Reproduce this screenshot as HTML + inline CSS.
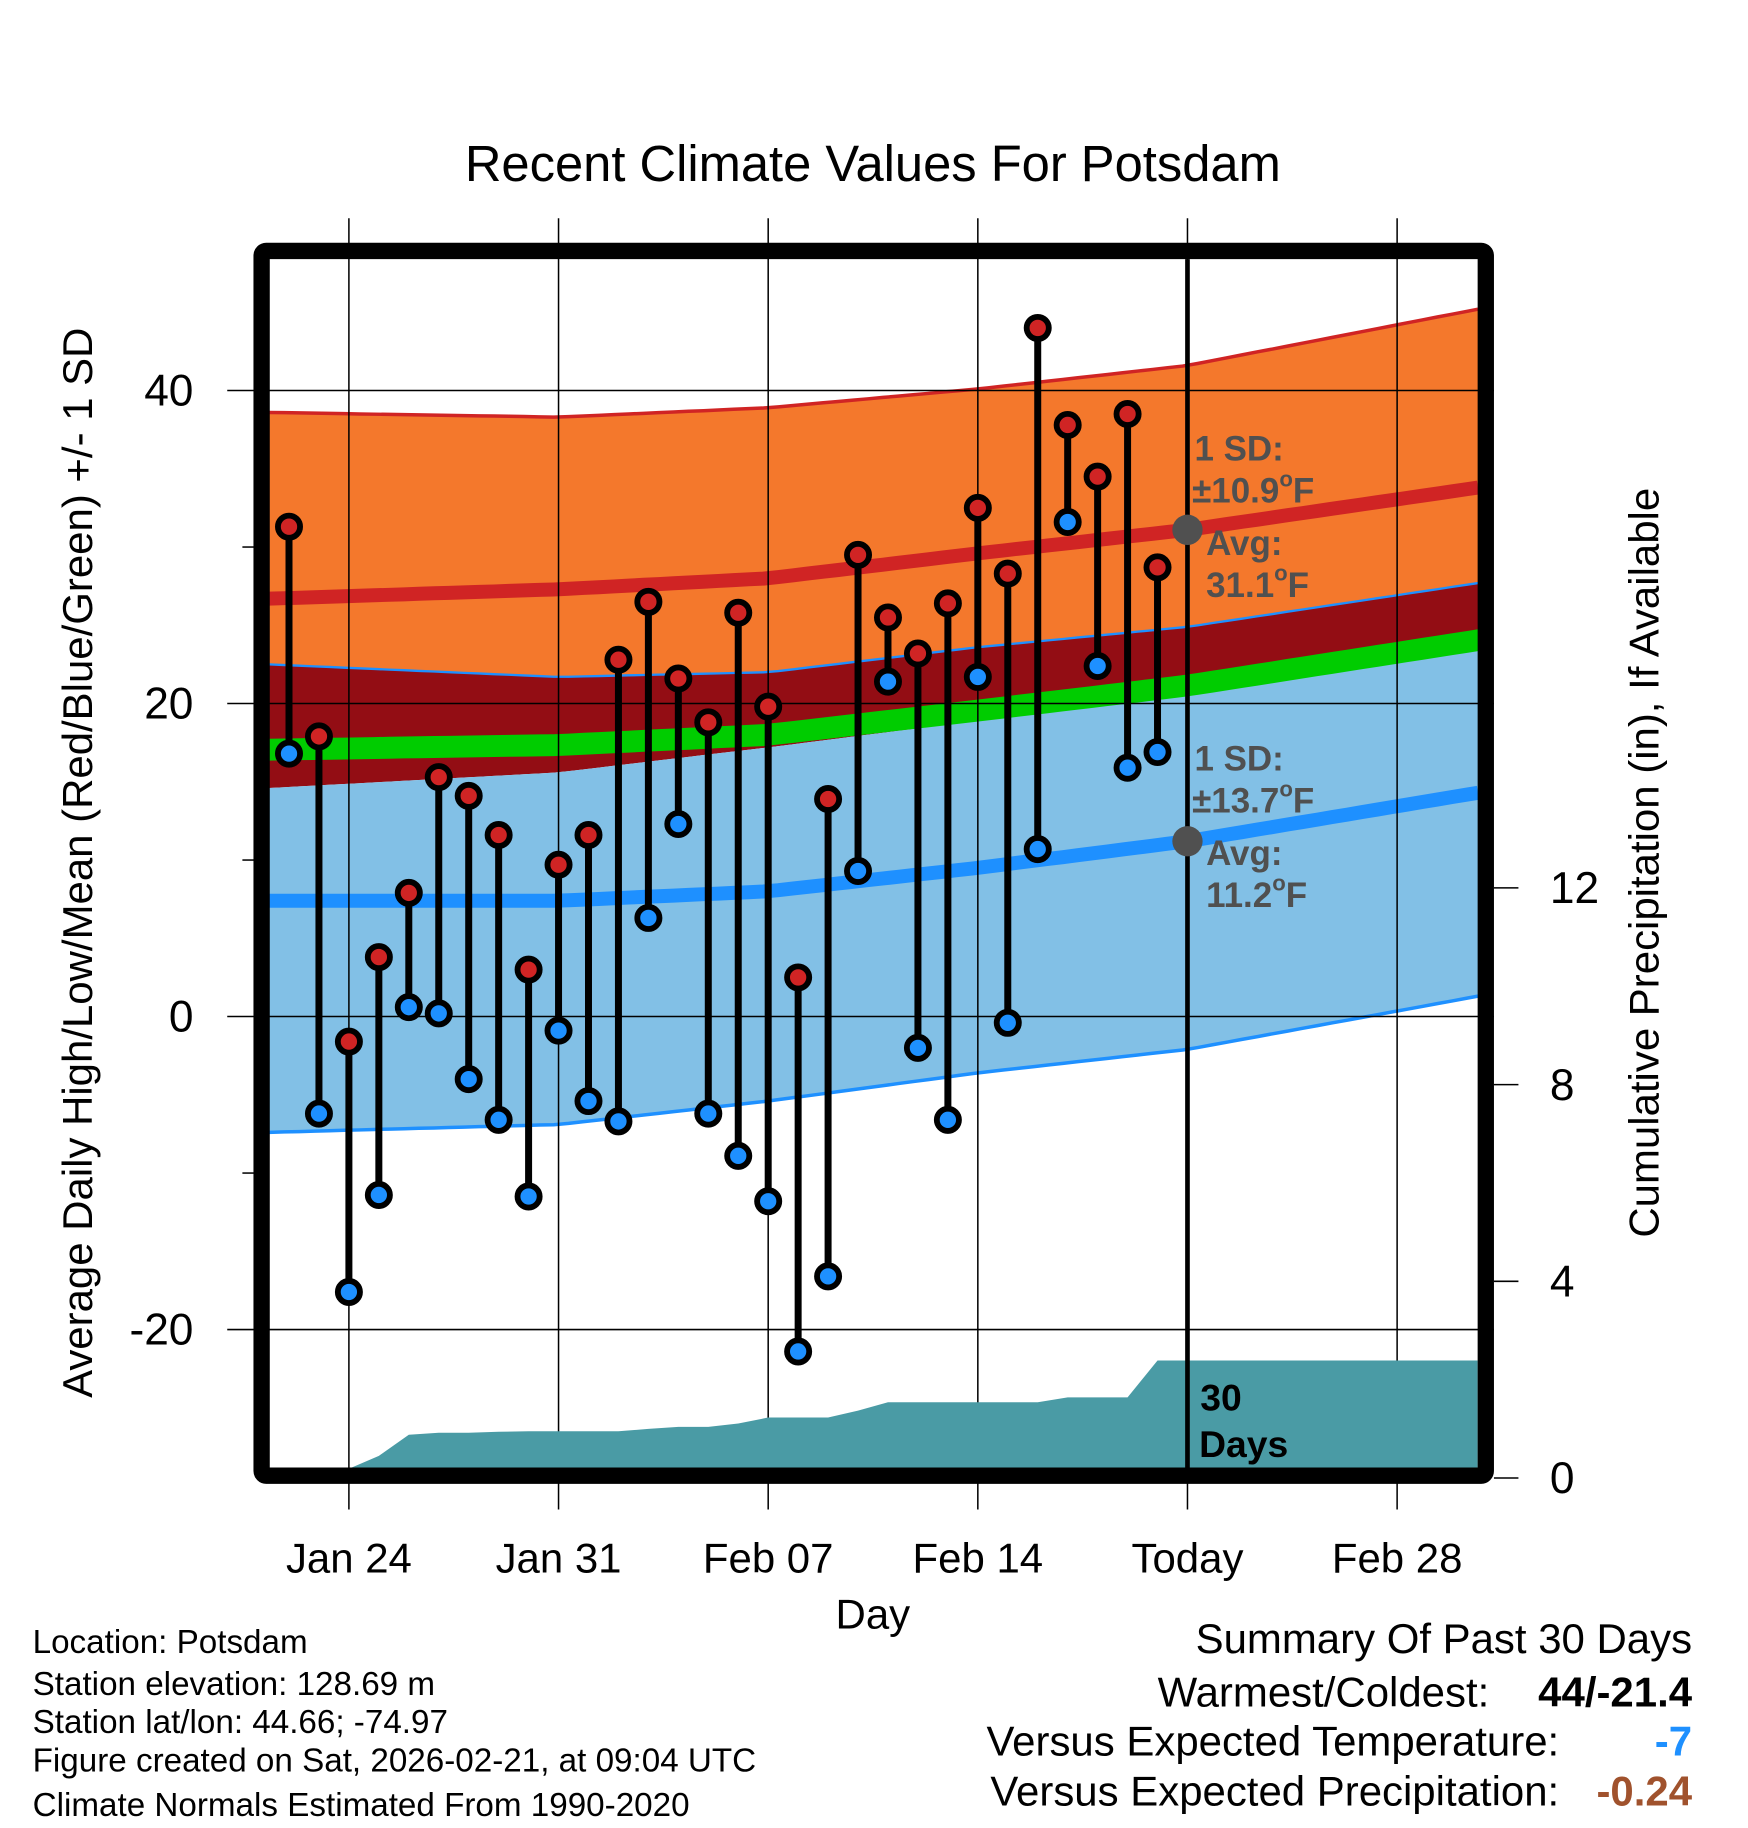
<!DOCTYPE html>
<html><head><meta charset="utf-8"><style>
html,body{margin:0;padding:0;background:#fff;}
svg{display:block;font-family:"Liberation Sans",Arial,sans-serif;}
</style></head><body>
<svg id="chart" width="1748" height="1828" viewBox="0 0 1500 1568" xmlns="http://www.w3.org/2000/svg">
<g id="bands"></g>
<g id="grid"></g>
<g id="precip"></g>
<g id="marks"></g>
<g id="axes"></g>
</svg>
<script>
// ---- data ----
const dayLabels = ["Jan 24","Jan 31","Feb 07","Feb 14","Today","Feb 28"];
const dayTickOffsets = [2,9,16,23,30,37]; // days after Jan 22
const highs = [31.3,17.9,-1.6,3.8,7.9,15.3,14.1,11.6,3.0,9.7,11.6,22.8,26.5,21.6,18.8,25.8,19.8,2.5,13.9,29.5,25.5,23.2,26.4,32.5,28.3,44.0,37.8,34.5,38.5,28.7];
const lows = [16.8,-6.2,-17.6,-11.4,0.6,0.2,-4.0,-6.6,-11.5,-0.9,-5.4,-6.7,6.3,12.3,-6.2,-8.9,-11.8,-21.4,-16.6,9.3,21.4,-2.0,-6.6,21.7,-0.4,10.7,31.6,22.4,15.9,16.9];
const precip = [0,0,0,0.45,0.88,0.92,0.92,0.94,0.95,0.95,0.95,0.95,1.0,1.04,1.04,1.11,1.23,1.23,1.23,1.37,1.54,1.54,1.54,1.54,1.54,1.54,1.64,1.64,1.64,2.39];
const normDays = [-0.66,9,16,23,30,39.7];
const highUpper = [38.6,38.3,38.9,40.1,41.6,45.2];
const highMean = [26.7,27.3,28.0,29.6,31.1,33.8];
const highLower = [22.5,21.7,22.0,23.6,24.9,27.7];
const lowUpper = [14.6,15.6,17.2,18.9,20.7,23.6];
const lowMean = [7.4,7.4,8.0,9.5,11.2,14.3];
const lowLower = [-7.4,-6.9,-5.4,-3.6,-2.1,1.3];
const yTicks = [40,20,0,-20];
const yMinor = [30,10,-10];
const pTicks = [0,4,8,12];

// ---- scales ----
const X0=231,X1=1268,Y0=222,Y1=1260;
const xs = d => 248 + d*25.7;
const ys = v => 872 - v*13.43;
const ps = v => 1268 - v*42.2;
const NS="http://www.w3.org/2000/svg";
function mk(tag, parent, attrs){const e=document.createElementNS(NS,tag);for(const k in attrs)e.setAttribute(k,attrs[k]);parent.appendChild(e);return e;}
function interp(arr,d){for(let i=0;i<normDays.length-1;i++){if(d<=normDays[i+1]){const t=(d-normDays[i])/(normDays[i+1]-normDays[i]);return arr[i]+t*(arr[i+1]-arr[i]);}}return arr[arr.length-1];}
const fine=[];for(let d=normDays[0];d<normDays[5];d+=0.5)fine.push(d);fine.push(normDays[5]);
function bandPath(up,lo){let p="";fine.forEach((d,i)=>{p+=(i?"L":"M")+xs(d).toFixed(1)+","+ys(up(d)).toFixed(1);});for(let i=fine.length-1;i>=0;i--){p+="L"+xs(fine[i]).toFixed(1)+","+ys(lo(fine[i])).toFixed(1);}return p+"Z";}
function linePath(f){return fine.map((d,i)=>(i?"L":"M")+xs(d).toFixed(1)+","+ys(f(d)).toFixed(1)).join("");}

const bands=document.getElementById('bands');
let e;
e=mk('path',bands,{d:bandPath(d=>interp(highUpper,d),d=>interp(highLower,d)),fill:'#f4782c'});


e=mk('path',bands,{d:bandPath(d=>interp(highLower,d),d=>interp(lowUpper,d)),fill:'#930d14'});


e=mk('path',bands,{d:bandPath(d=>interp(lowUpper,d),d=>interp(lowLower,d)),fill:'#82c0e6'});


e=mk('path',bands,{d:bandPath(d=>(interp(highMean,d)+interp(lowMean,d))/2+0.7,d=>(interp(highMean,d)+interp(lowMean,d))/2-0.7),fill:'#00cc00'});


e=mk('path',bands,{d:linePath(d=>interp(highUpper,d)),stroke:'#d02424',"stroke-width":3,fill:'none'});


e=mk('path',bands,{d:linePath(d=>interp(highMean,d)),stroke:'#d02424',"stroke-width":12,fill:'none'});


e=mk('path',bands,{d:linePath(d=>interp(highLower,d)),stroke:'#1e90ff',"stroke-width":2,fill:'none'});


e=mk('path',bands,{d:linePath(d=>interp(lowMean,d)),stroke:'#1e90ff',"stroke-width":12,fill:'none'});


e=mk('path',bands,{d:linePath(d=>interp(lowLower,d)),stroke:'#1e90ff',"stroke-width":3,fill:'none'});



// grid
const grid=document.getElementById('grid');
dayTickOffsets.forEach((d,i)=>{
  e=mk('line',grid,{x1:xs(d),x2:xs(d),y1:187,y2:1295,stroke:'#000',"stroke-width":1.3});
  
  
});
yTicks.forEach(v=>{
  e=mk('line',grid,{x1:195,x2:1282,y1:ys(v),y2:ys(v),stroke:'#000',"stroke-width":1.3});
  
  
});

// precip
const pg=document.getElementById('precip');
let pp="M"+X0+","+Y1;
precip.forEach((v,i)=>{pp+="L"+xs(i).toFixed(1)+","+Math.min(Y1,ps(v)).toFixed(1);});
pp+="L"+X1+","+Math.min(Y1,ps(precip[precip.length-1])).toFixed(1)+"L"+X1+","+Y1+"Z";
e=mk('path',pg,{d:pp,fill:'#4a9ba5'});



// marks
const mg=document.getElementById('marks');
const tx=xs(30);
e=mk('line',mg,{x1:tx,x2:tx,y1:Y0,y2:Y1,stroke:'#000',"stroke-width":4});


highs.forEach((h,i)=>{
  const x=xs(i);
  e=mk('line',mg,{x1:x,x2:x,y1:ys(h),y2:ys(lows[i]),stroke:'#000',"stroke-width":6});
  
  
});
highs.forEach((h,i)=>{
  const x=xs(i);
  e=mk('circle',mg,{cx:x,cy:ys(h),r:9.5,fill:'#d02424',stroke:'#000',"stroke-width":5});
  
  
  e=mk('circle',mg,{cx:x,cy:ys(lows[i]),r:9.5,fill:'#1e90ff',stroke:'#000',"stroke-width":5});
  
  
});
e=mk('circle',mg,{cx:tx,cy:ys(highMean[4]),r:13,fill:'#505050'});


e=mk('circle',mg,{cx:tx,cy:ys(lowMean[4]),r:13,fill:'#505050'});



// axes / frame
const ag=document.getElementById('axes');
e=mk('rect',ag,{x:224.5,y:215,width:1050.5,height:1051,fill:'none',stroke:'#000',"stroke-width":14,rx:4});


yTicks.forEach(v=>{
  e=mk('text',ag,{x:166,y:ys(v)+13,"text-anchor":'end',"font-size":38});
  e.textContent=v;
  
  
});
yMinor.forEach(v=>{
  e=mk('line',ag,{x1:208,x2:218,y1:ys(v),y2:ys(v),stroke:'#000',"stroke-width":1.3});
  
  
});
pTicks.forEach(v=>{
  e=mk('line',ag,{x1:1282,x2:1303,y1:ps(v),y2:ps(v),stroke:'#000',"stroke-width":1.3});
  
  
  e=mk('text',ag,{x:1330,y:ps(v)+13,"font-size":38});
  e.textContent=v;
  
  
});
dayTickOffsets.forEach((d,i)=>{
  e=mk('text',ag,{x:xs(d),y:1349,"text-anchor":'middle',"font-size":36});
  e.textContent=dayLabels[i];
  
  
});
</script>
<svg style="position:absolute;left:0;top:0;" width="1748" height="1828" viewBox="0 0 1500 1568" xmlns="http://www.w3.org/2000/svg" font-family="Liberation Sans, Arial, sans-serif">
<text x="749" y="155" text-anchor="middle" font-size="43.5">Recent Climate Values For Potsdam</text>
<text transform="translate(79,740) rotate(-90)" text-anchor="middle" font-size="36">Average Daily High/Low/Mean (Red/Blue/Green) +/- 1 SD</text>
<text transform="translate(1423,740) rotate(-90)" text-anchor="middle" font-size="36">Cumulative Precipitation (in), If Available</text>
<text x="749" y="1397" text-anchor="middle" font-size="36">Day</text>
<g font-weight="bold" fill="#505050" font-size="30">
<text x="1025" y="395">1 SD:</text>
<text x="1023" y="431">±10.9<tspan font-size="19" dy="-14">o</tspan><tspan dy="14">F</tspan></text>
<text x="1035" y="476">Avg:</text>
<text x="1035" y="512">31.1<tspan font-size="19" dy="-14">o</tspan><tspan dy="14">F</tspan></text>
</g>
<g font-weight="bold" fill="#505050" font-size="30">
<text x="1025" y="661">1 SD:</text>
<text x="1023" y="697">±13.7<tspan font-size="19" dy="-14">o</tspan><tspan dy="14">F</tspan></text>
<text x="1035" y="742">Avg:</text>
<text x="1035" y="778">11.2<tspan font-size="19" dy="-14">o</tspan><tspan dy="14">F</tspan></text>
</g>
<g font-weight="bold" font-size="32" fill="#000">
<text x="1030" y="1210">30</text>
<text x="1029" y="1250">Days</text>
</g>
<g font-size="28.5" fill="#000">
<text x="28" y="1418">Location: Potsdam</text>
<text x="28" y="1454">Station elevation: 128.69 m</text>
<text x="28" y="1487">Station lat/lon: 44.66; -74.97</text>
<text x="28" y="1520">Figure created on Sat, 2026-02-21, at 09:04 UTC</text>
<text x="28" y="1558">Climate Normals Estimated From 1990-2020</text>
</g>
<g font-size="36" fill="#000">
<text x="1452" y="1418" text-anchor="end">Summary Of Past 30 Days</text>
<text x="1278" y="1464" text-anchor="end">Warmest/Coldest:</text>
<text x="1452" y="1464" text-anchor="end" font-weight="bold">44/-21.4</text>
<text x="1338" y="1506" text-anchor="end">Versus Expected Temperature:</text>
<text x="1452" y="1506" text-anchor="end" font-weight="bold" fill="#1e90ff">-7</text>
<text x="1338" y="1549" text-anchor="end">Versus Expected Precipitation:</text>
<text x="1452" y="1549" text-anchor="end" font-weight="bold" fill="#a0522d">-0.24</text>
</g>
</svg>
</body></html>
